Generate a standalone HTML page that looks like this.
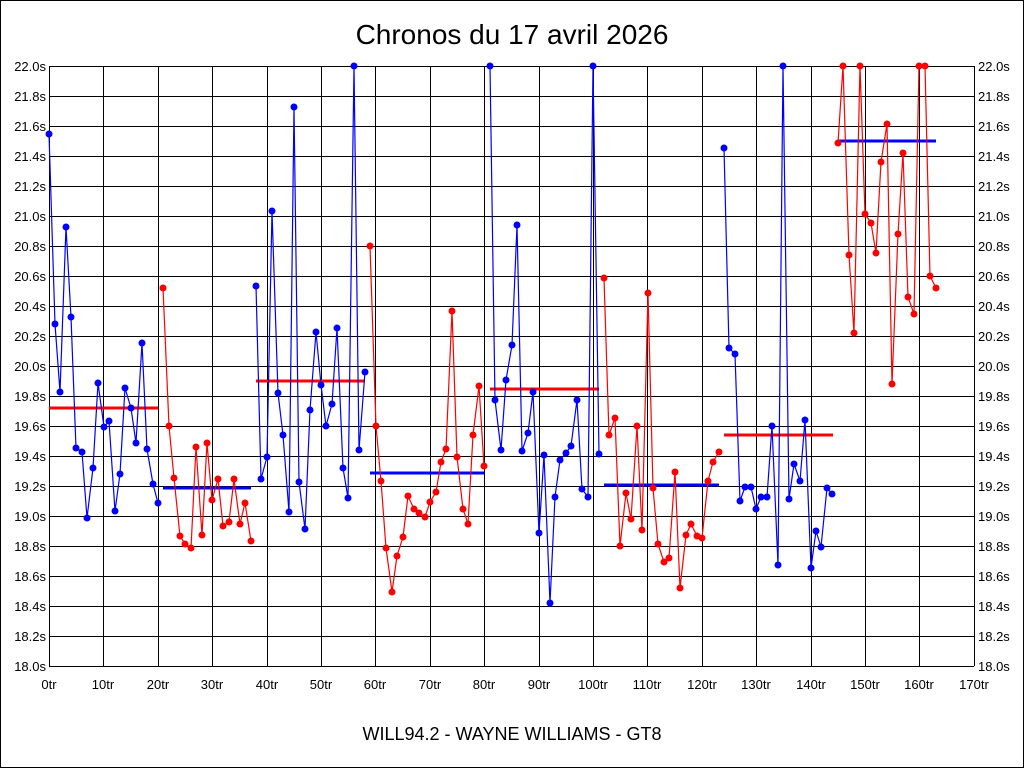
<!DOCTYPE html>
<html><head><meta charset="utf-8"><style>
html,body{margin:0;padding:0;background:#fff}
svg{display:block;font-family:"Liberation Sans",sans-serif}
</style></head><body>
<svg width="1024" height="768" viewBox="0 0 1024 768" xmlns="http://www.w3.org/2000/svg">
<rect x="0.5" y="0.5" width="1023" height="767" fill="#fff" stroke="#000"/>
<text x="512" y="44" font-size="28" text-anchor="middle">Chronos du 17 avril 2026</text>
<text x="512" y="740" font-size="18" text-anchor="middle">WILL94.2 - WAYNE WILLIAMS - GT8</text>
<g stroke="#000" stroke-width="1" fill="none">
<path d="M49,66.5H974M49,96.5H974M49,126.5H974M49,156.5H974M49,186.5H974M49,216.5H974M49,246.5H974M49,276.5H974M49,306.5H974M49,336.5H974M49,366.5H974M49,396.5H974M49,426.5H974M49,456.5H974M49,486.5H974M49,516.5H974M49,546.5H974M49,576.5H974M49,606.5H974M49,636.5H974M49,666.5H974"/>
<path d="M49.5,66V666M103.5,66V666M158.5,66V666M212.5,66V666M267.5,66V666M321.5,66V666M375.5,66V666M430.5,66V666M484.5,66V666M539.5,66V666M593.5,66V666M647.5,66V666M702.5,66V666M756.5,66V666M811.5,66V666M865.5,66V666M919.5,66V666M974.5,66V666"/>
</g>
<g font-size="13" text-anchor="end">
<text x="46" y="71">22.0s</text><text x="46" y="101">21.8s</text><text x="46" y="131">21.6s</text><text x="46" y="161">21.4s</text><text x="46" y="191">21.2s</text><text x="46" y="221">21.0s</text><text x="46" y="251">20.8s</text><text x="46" y="281">20.6s</text><text x="46" y="311">20.4s</text><text x="46" y="341">20.2s</text><text x="46" y="371">20.0s</text><text x="46" y="401">19.8s</text><text x="46" y="431">19.6s</text><text x="46" y="461">19.4s</text><text x="46" y="491">19.2s</text><text x="46" y="521">19.0s</text><text x="46" y="551">18.8s</text><text x="46" y="581">18.6s</text><text x="46" y="611">18.4s</text><text x="46" y="641">18.2s</text><text x="46" y="671">18.0s</text>
</g>
<g font-size="13" text-anchor="start">
<text x="978" y="71">22.0s</text><text x="978" y="101">21.8s</text><text x="978" y="131">21.6s</text><text x="978" y="161">21.4s</text><text x="978" y="191">21.2s</text><text x="978" y="221">21.0s</text><text x="978" y="251">20.8s</text><text x="978" y="281">20.6s</text><text x="978" y="311">20.4s</text><text x="978" y="341">20.2s</text><text x="978" y="371">20.0s</text><text x="978" y="401">19.8s</text><text x="978" y="431">19.6s</text><text x="978" y="461">19.4s</text><text x="978" y="491">19.2s</text><text x="978" y="521">19.0s</text><text x="978" y="551">18.8s</text><text x="978" y="581">18.6s</text><text x="978" y="611">18.4s</text><text x="978" y="641">18.2s</text><text x="978" y="671">18.0s</text>
</g>
<g font-size="13" text-anchor="middle">
<text x="49" y="689">0tr</text><text x="103" y="689">10tr</text><text x="158" y="689">20tr</text><text x="212" y="689">30tr</text><text x="267" y="689">40tr</text><text x="321" y="689">50tr</text><text x="375" y="689">60tr</text><text x="430" y="689">70tr</text><text x="484" y="689">80tr</text><text x="539" y="689">90tr</text><text x="593" y="689">100tr</text><text x="647" y="689">110tr</text><text x="702" y="689">120tr</text><text x="756" y="689">130tr</text><text x="811" y="689">140tr</text><text x="865" y="689">150tr</text><text x="919" y="689">160tr</text><text x="974" y="689">170tr</text>
</g>
<g stroke-width="3">
<line x1="49" y1="408" x2="158" y2="408" stroke="#f00"/>
<line x1="163" y1="488" x2="251" y2="488" stroke="#00f"/>
<line x1="256" y1="381" x2="365" y2="381" stroke="#f00"/>
<line x1="370" y1="473" x2="484" y2="473" stroke="#00f"/>
<line x1="490" y1="389" x2="599" y2="389" stroke="#f00"/>
<line x1="604" y1="485" x2="719" y2="485" stroke="#00f"/>
<line x1="724" y1="435" x2="833" y2="435" stroke="#f00"/>
<line x1="838" y1="141" x2="936" y2="141" stroke="#00f"/>
</g>
<g fill="none" stroke-width="1.2">
<polyline stroke="#00f" points="49,134 55,324 60,392 66,227 71,317 76,448 82,452 87,518 93,468 98,383 104,427 109,421 115,511 120,474 125,388 131,408 136,443 142,343 147,449 153,484 158,503"/>
<polyline stroke="#f00" points="163,288 169,426 174,478 180,536 185,544 191,548 196,447 202,535 207,443 212,500 218,479 223,526 229,522 234,479 240,524 245,503 251,541"/>
<polyline stroke="#00f" points="256,286 261,479 267,457 272,211 278,393 283,435 289,512 294,107 299,482 305,529 310,410 316,332 321,385 326,426 332,404 337,328 343,468 348,498 354,66 359,450 365,372"/>
<polyline stroke="#f00" points="370,246 376,426 381,481 386,548 392,592 397,556 403,537 408,496 414,509 419,513 425,517 430,502 436,492 441,462 446,449 452,311 457,457 463,509 468,524 473,435 479,386 484,466"/>
<polyline stroke="#00f" points="490,66 495,400 501,450 506,380 512,345 517,225 522,451 528,433 533,392 539,533 544,455 550,603 555,497 560,460 566,453 571,446 577,400 582,489 588,497 593,66 599,454"/>
<polyline stroke="#f00" points="604,278 609,435 615,418 620,546 626,493 631,519 637,426 642,530 648,293 653,488 658,544 664,562 669,558 675,472 680,588 686,535 691,524 697,536 702,538 708,481 713,462 719,452"/>
<polyline stroke="#00f" points="724,148 729,348 735,354 740,501 745,487 751,487 756,509 761,497 767,497 772,426 778,565 783,66 789,499 794,464 800,481 805,420 811,568 816,531 821,547 827,488 832,494"/>
<polyline stroke="#f00" points="838,143 843,66 849,255 854,333 860,66 865,214 871,223 876,253 881,162 887,124 892,384 898,234 903,153 908,297 914,314 919,66 925,66 930,276 936,288"/>
</g>
<g fill="#00f">
<circle cx="49" cy="134" r="3.5"/><circle cx="55" cy="324" r="3.5"/><circle cx="60" cy="392" r="3.5"/><circle cx="66" cy="227" r="3.5"/><circle cx="71" cy="317" r="3.5"/><circle cx="76" cy="448" r="3.5"/><circle cx="82" cy="452" r="3.5"/><circle cx="87" cy="518" r="3.5"/><circle cx="93" cy="468" r="3.5"/><circle cx="98" cy="383" r="3.5"/><circle cx="104" cy="427" r="3.5"/><circle cx="109" cy="421" r="3.5"/><circle cx="115" cy="511" r="3.5"/><circle cx="120" cy="474" r="3.5"/><circle cx="125" cy="388" r="3.5"/><circle cx="131" cy="408" r="3.5"/><circle cx="136" cy="443" r="3.5"/><circle cx="142" cy="343" r="3.5"/><circle cx="147" cy="449" r="3.5"/><circle cx="153" cy="484" r="3.5"/><circle cx="158" cy="503" r="3.5"/>
<circle cx="256" cy="286" r="3.5"/><circle cx="261" cy="479" r="3.5"/><circle cx="267" cy="457" r="3.5"/><circle cx="272" cy="211" r="3.5"/><circle cx="278" cy="393" r="3.5"/><circle cx="283" cy="435" r="3.5"/><circle cx="289" cy="512" r="3.5"/><circle cx="294" cy="107" r="3.5"/><circle cx="299" cy="482" r="3.5"/><circle cx="305" cy="529" r="3.5"/><circle cx="310" cy="410" r="3.5"/><circle cx="316" cy="332" r="3.5"/><circle cx="321" cy="385" r="3.5"/><circle cx="326" cy="426" r="3.5"/><circle cx="332" cy="404" r="3.5"/><circle cx="337" cy="328" r="3.5"/><circle cx="343" cy="468" r="3.5"/><circle cx="348" cy="498" r="3.5"/><circle cx="354" cy="66" r="3.5"/><circle cx="359" cy="450" r="3.5"/><circle cx="365" cy="372" r="3.5"/>
<circle cx="490" cy="66" r="3.5"/><circle cx="495" cy="400" r="3.5"/><circle cx="501" cy="450" r="3.5"/><circle cx="506" cy="380" r="3.5"/><circle cx="512" cy="345" r="3.5"/><circle cx="517" cy="225" r="3.5"/><circle cx="522" cy="451" r="3.5"/><circle cx="528" cy="433" r="3.5"/><circle cx="533" cy="392" r="3.5"/><circle cx="539" cy="533" r="3.5"/><circle cx="544" cy="455" r="3.5"/><circle cx="550" cy="603" r="3.5"/><circle cx="555" cy="497" r="3.5"/><circle cx="560" cy="460" r="3.5"/><circle cx="566" cy="453" r="3.5"/><circle cx="571" cy="446" r="3.5"/><circle cx="577" cy="400" r="3.5"/><circle cx="582" cy="489" r="3.5"/><circle cx="588" cy="497" r="3.5"/><circle cx="593" cy="66" r="3.5"/><circle cx="599" cy="454" r="3.5"/>
<circle cx="724" cy="148" r="3.5"/><circle cx="729" cy="348" r="3.5"/><circle cx="735" cy="354" r="3.5"/><circle cx="740" cy="501" r="3.5"/><circle cx="745" cy="487" r="3.5"/><circle cx="751" cy="487" r="3.5"/><circle cx="756" cy="509" r="3.5"/><circle cx="761" cy="497" r="3.5"/><circle cx="767" cy="497" r="3.5"/><circle cx="772" cy="426" r="3.5"/><circle cx="778" cy="565" r="3.5"/><circle cx="783" cy="66" r="3.5"/><circle cx="789" cy="499" r="3.5"/><circle cx="794" cy="464" r="3.5"/><circle cx="800" cy="481" r="3.5"/><circle cx="805" cy="420" r="3.5"/><circle cx="811" cy="568" r="3.5"/><circle cx="816" cy="531" r="3.5"/><circle cx="821" cy="547" r="3.5"/><circle cx="827" cy="488" r="3.5"/><circle cx="832" cy="494" r="3.5"/>
</g>
<g fill="#f00">
<circle cx="163" cy="288" r="3.5"/><circle cx="169" cy="426" r="3.5"/><circle cx="174" cy="478" r="3.5"/><circle cx="180" cy="536" r="3.5"/><circle cx="185" cy="544" r="3.5"/><circle cx="191" cy="548" r="3.5"/><circle cx="196" cy="447" r="3.5"/><circle cx="202" cy="535" r="3.5"/><circle cx="207" cy="443" r="3.5"/><circle cx="212" cy="500" r="3.5"/><circle cx="218" cy="479" r="3.5"/><circle cx="223" cy="526" r="3.5"/><circle cx="229" cy="522" r="3.5"/><circle cx="234" cy="479" r="3.5"/><circle cx="240" cy="524" r="3.5"/><circle cx="245" cy="503" r="3.5"/><circle cx="251" cy="541" r="3.5"/>
<circle cx="370" cy="246" r="3.5"/><circle cx="376" cy="426" r="3.5"/><circle cx="381" cy="481" r="3.5"/><circle cx="386" cy="548" r="3.5"/><circle cx="392" cy="592" r="3.5"/><circle cx="397" cy="556" r="3.5"/><circle cx="403" cy="537" r="3.5"/><circle cx="408" cy="496" r="3.5"/><circle cx="414" cy="509" r="3.5"/><circle cx="419" cy="513" r="3.5"/><circle cx="425" cy="517" r="3.5"/><circle cx="430" cy="502" r="3.5"/><circle cx="436" cy="492" r="3.5"/><circle cx="441" cy="462" r="3.5"/><circle cx="446" cy="449" r="3.5"/><circle cx="452" cy="311" r="3.5"/><circle cx="457" cy="457" r="3.5"/><circle cx="463" cy="509" r="3.5"/><circle cx="468" cy="524" r="3.5"/><circle cx="473" cy="435" r="3.5"/><circle cx="479" cy="386" r="3.5"/><circle cx="484" cy="466" r="3.5"/>
<circle cx="604" cy="278" r="3.5"/><circle cx="609" cy="435" r="3.5"/><circle cx="615" cy="418" r="3.5"/><circle cx="620" cy="546" r="3.5"/><circle cx="626" cy="493" r="3.5"/><circle cx="631" cy="519" r="3.5"/><circle cx="637" cy="426" r="3.5"/><circle cx="642" cy="530" r="3.5"/><circle cx="648" cy="293" r="3.5"/><circle cx="653" cy="488" r="3.5"/><circle cx="658" cy="544" r="3.5"/><circle cx="664" cy="562" r="3.5"/><circle cx="669" cy="558" r="3.5"/><circle cx="675" cy="472" r="3.5"/><circle cx="680" cy="588" r="3.5"/><circle cx="686" cy="535" r="3.5"/><circle cx="691" cy="524" r="3.5"/><circle cx="697" cy="536" r="3.5"/><circle cx="702" cy="538" r="3.5"/><circle cx="708" cy="481" r="3.5"/><circle cx="713" cy="462" r="3.5"/><circle cx="719" cy="452" r="3.5"/>
<circle cx="838" cy="143" r="3.5"/><circle cx="843" cy="66" r="3.5"/><circle cx="849" cy="255" r="3.5"/><circle cx="854" cy="333" r="3.5"/><circle cx="860" cy="66" r="3.5"/><circle cx="865" cy="214" r="3.5"/><circle cx="871" cy="223" r="3.5"/><circle cx="876" cy="253" r="3.5"/><circle cx="881" cy="162" r="3.5"/><circle cx="887" cy="124" r="3.5"/><circle cx="892" cy="384" r="3.5"/><circle cx="898" cy="234" r="3.5"/><circle cx="903" cy="153" r="3.5"/><circle cx="908" cy="297" r="3.5"/><circle cx="914" cy="314" r="3.5"/><circle cx="919" cy="66" r="3.5"/><circle cx="925" cy="66" r="3.5"/><circle cx="930" cy="276" r="3.5"/><circle cx="936" cy="288" r="3.5"/>
</g>
</svg>
</body></html>
